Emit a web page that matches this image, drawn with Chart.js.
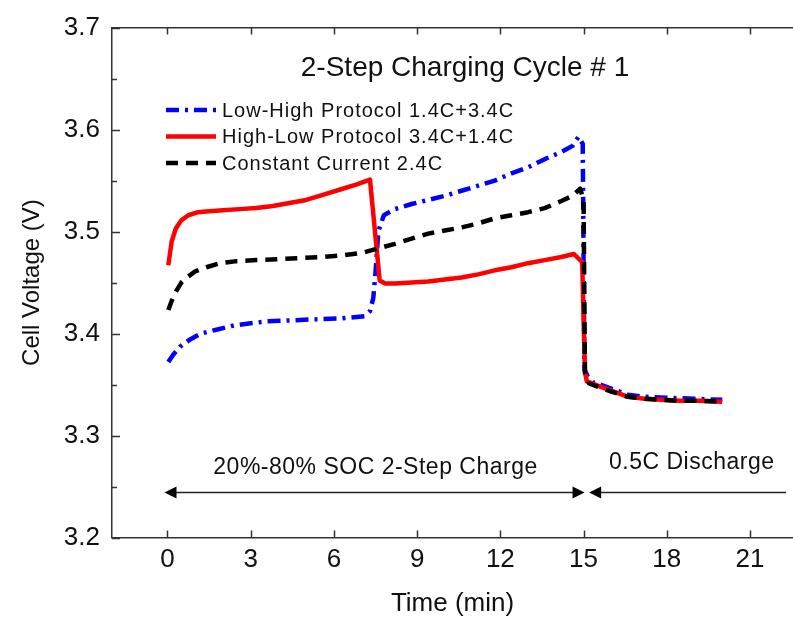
<!DOCTYPE html>
<html>
<head>
<meta charset="utf-8">
<script src="https://cdn.jsdelivr.net/npm/chart.js@4/dist/chart.umd.min.js"></script>
<style>
  html, body { margin: 0; padding: 0; background: #fff; }
  #wrap { width: 793px; height: 619px; }
</style>
</head>
<body>
<div id="wrap"><canvas id="canvas" width="793" height="619"></canvas></div>
<script>
// Low-High protocol 1.4C+3.4C
const tLowHigh = [0.03, 0.2, 0.45, 0.8, 1.2, 1.8, 2.4, 3.0, 3.6, 4.5, 5.4, 6.3, 7.1, 7.3, 7.42, 7.5, 7.6, 7.8, 8.2, 8.8, 9.4, 10.0, 10.6, 11.2, 11.8, 12.4, 13.0, 13.6, 14.2, 14.6, 14.82, 14.97, 15.03, 15.15, 15.35, 15.7, 16.1, 16.6, 17.2, 18.0, 19.0, 20.0];
const vLowHigh = [3.372, 3.379, 3.387, 3.394, 3.400, 3.404, 3.408, 3.410, 3.412, 3.413, 3.414, 3.415, 3.417, 3.422, 3.435, 3.460, 3.500, 3.516, 3.522, 3.527, 3.531, 3.535, 3.540, 3.545, 3.550, 3.557, 3.563, 3.571, 3.578, 3.584, 3.593, 3.586, 3.365, 3.358, 3.352, 3.349, 3.345, 3.340, 3.338, 3.337, 3.336, 3.335];

// High-Low protocol 3.4C+1.4C
const tHighLow = [0.03, 0.15, 0.3, 0.5, 0.75, 1.1, 1.5, 2.0, 2.6, 3.2, 3.8, 4.4, 5.0, 5.6, 6.2, 6.8, 7.3, 7.65, 7.85, 8.2, 8.8, 9.4, 10.0, 10.6, 11.2, 11.8, 12.4, 13.0, 13.6, 14.2, 14.65, 14.95, 15.05, 15.12, 15.6, 16.0, 16.6, 17.2, 17.8, 18.5, 19.2, 20.0];
const vHighLow = [3.467, 3.490, 3.503, 3.511, 3.516, 3.519, 3.520, 3.521, 3.522, 3.523, 3.525, 3.528, 3.531, 3.536, 3.541, 3.546, 3.551, 3.452, 3.449, 3.449, 3.450, 3.451, 3.453, 3.455, 3.458, 3.462, 3.465, 3.469, 3.472, 3.475, 3.478, 3.470, 3.362, 3.353, 3.348, 3.344, 3.338, 3.336, 3.335, 3.334, 3.334, 3.333];

// Constant current 2.4C
const tConst = [0.03, 0.15, 0.3, 0.5, 0.75, 1.0, 1.4, 1.9, 2.5, 3.2, 4.0, 4.8, 5.6, 6.4, 7.0, 7.4, 7.8, 8.2, 8.8, 9.4, 10.0, 10.6, 11.2, 11.8, 12.4, 13.0, 13.6, 14.2, 14.6, 14.88, 15.0, 15.05, 15.2, 15.6, 16.0, 16.6, 17.2, 17.8, 18.5, 19.2, 20.0];
const vConst = [3.423, 3.432, 3.441, 3.450, 3.456, 3.461, 3.465, 3.469, 3.471, 3.472, 3.473, 3.474, 3.475, 3.477, 3.479, 3.482, 3.485, 3.488, 3.493, 3.498, 3.501, 3.504, 3.508, 3.513, 3.516, 3.519, 3.523, 3.530, 3.535, 3.542, 3.531, 3.362, 3.351, 3.347, 3.343, 3.338, 3.336, 3.335, 3.334, 3.334, 3.333];

const xTicks = [0, 3, 6, 9, 12, 15, 18, 21];
const yTicks = [3.2, 3.3, 3.4, 3.5, 3.6, 3.7];
const yMinorTicks = [3.25, 3.35, 3.45, 3.55, 3.65];

const chartTitle = "2-Step Charging Cycle # 1";
const chargeLabel = "20%-80% SOC 2-Step Charge";
const dischargeLabel = "0.5C Discharge";

const FONT = "Arial, 'Liberation Sans', sans-serif";

function pts(ts, vs) {
  return ts.map((t, i) => ({ x: t, y: vs[i] }));
}

// tick marks pointing into the plot, the title, legend and arrows
const decorations = {
  id: "decorations",
  afterDraw(chart) {
    const { ctx, chartArea: a, scales } = chart;
    const x = scales.x, y = scales.y;
    ctx.save();
    ctx.strokeStyle = "#333";
    ctx.lineWidth = 1.5;
    ctx.beginPath();
    xTicks.forEach((t) => {
      const px = Math.round(x.getPixelForValue(t)) + 0.5;
      ctx.moveTo(px, a.bottom); ctx.lineTo(px, a.bottom - 7);
      ctx.moveTo(px, a.top); ctx.lineTo(px, a.top + 7);
    });
    yTicks.forEach((v) => {
      const py = Math.round(y.getPixelForValue(v)) + 0.5;
      ctx.moveTo(a.left, py); ctx.lineTo(a.left + 8, py);
    });
    yMinorTicks.forEach((v) => {
      const py = Math.round(y.getPixelForValue(v)) + 0.5;
      ctx.moveTo(a.left, py); ctx.lineTo(a.left + 5, py);
    });
    ctx.stroke();

    // title inside the plot
    ctx.fillStyle = "#111";
    ctx.font = "28px " + FONT;
    ctx.textAlign = "center";
    ctx.textBaseline = "middle";
    ctx.fillText(chartTitle, 465, 68);

    // legend
    const order = [0, 1, 2];
    ctx.font = "20px " + FONT;
    ctx.textAlign = "left";
    if ("letterSpacing" in ctx) ctx.letterSpacing = "1px";
    order.forEach((di, row) => {
      const ds = chart.data.datasets[di];
      const ry = 110 + row * 26.5;
      ctx.save();
      ctx.strokeStyle = ds.borderColor;
      ctx.lineWidth = ds.borderWidth;
      ctx.setLineDash(ds.borderDash || []);
      ctx.beginPath();
      ctx.moveTo(166, ry); ctx.lineTo(216, ry);
      ctx.stroke();
      ctx.restore();
      ctx.fillStyle = "#111";
      ctx.fillText(ds.label, 222, ry + 1);
    });
    if ("letterSpacing" in ctx) ctx.letterSpacing = "0px";

    // annotation arrows
    const ay = Math.round(y.getPixelForValue(3.245)) + 0.5;
    const x0 = x.getPixelForValue(0) - 3;
    const x15 = x.getPixelForValue(15) + 1;
    const x15b = x.getPixelForValue(15.2);
    const xEnd = x.getPixelForValue(22.3);
    ctx.strokeStyle = "#222";
    ctx.lineWidth = 1.3;
    ctx.beginPath();
    ctx.moveTo(x0 + 8, ay); ctx.lineTo(x15 - 8, ay);
    ctx.moveTo(x15b + 8, ay); ctx.lineTo(xEnd, ay);
    ctx.stroke();
    ctx.fillStyle = "#000";
    const head = (tipX, dir) => {
      ctx.beginPath();
      ctx.moveTo(tipX, ay);
      ctx.lineTo(tipX - dir * 12, ay - 6);
      ctx.lineTo(tipX - dir * 12, ay + 6);
      ctx.closePath();
      ctx.fill();
    };
    head(x0, -1);
    head(x15, 1);
    head(x15b, -1);

    ctx.fillStyle = "#111";
    ctx.font = "23px " + FONT;
    ctx.textAlign = "center";
    if ("letterSpacing" in ctx) ctx.letterSpacing = "0.5px";
    ctx.fillText(chargeLabel, x.getPixelForValue(7.5), y.getPixelForValue(3.268));
    ctx.fillText(dischargeLabel, x.getPixelForValue(18.9), y.getPixelForValue(3.273));
    ctx.restore();
  },
};

const ctx = document.getElementById("canvas").getContext("2d");
new Chart(ctx, {
  type: "line",
  data: {
    datasets: [
      {
        label: "Low-High Protocol 1.4C+3.4C",
        data: pts(tLowHigh, vLowHigh),
        borderColor: "#0000ff",
        borderWidth: 4.5,
        borderDash: [13, 6, 3, 6],
        order: 3,
      },
      {
        label: "High-Low Protocol 3.4C+1.4C",
        data: pts(tHighLow, vHighLow),
        borderColor: "#ff0000",
        borderWidth: 4.5,
        order: 2,
      },
      {
        label: "Constant Current 2.4C",
        data: pts(tConst, vConst),
        borderColor: "#000000",
        borderWidth: 4.5,
        borderDash: [12, 8],
        order: 1,
      },
    ],
  },
  options: {
    responsive: false,
    animation: false,
    devicePixelRatio: 1,
    layout: { padding: { top: 27, right: 0, bottom: 0, left: 0 } },
    elements: {
      point: { radius: 0 },
      line: { tension: 0, fill: false, borderCapStyle: "butt", borderJoinStyle: "round" },
    },
    plugins: {
      legend: { display: false },
      tooltip: { enabled: false },
      title: { display: false },
    },
    scales: {
      x: {
        type: "linear",
        position: "bottom",
        min: -2,
        max: 22.55,
        afterFit: (s) => { s.height = 81.5; },
        afterBuildTicks: (s) => { s.ticks = xTicks.map((v) => ({ value: v })); },
        grid: { drawOnChartArea: false, drawTicks: false },
        border: { display: true, color: "#333", width: 1.5 },
        ticks: {
          padding: 7,
          color: "#111",
          font: { family: FONT, size: 26 },
        },
        title: {
          display: true,
          text: "Time (min)",
          color: "#111",
          font: { family: FONT, size: 26 },
          padding: { top: 0, bottom: 0 },
        },
      },
      x2: {
        type: "linear",
        position: "top",
        min: -2,
        max: 22.55,
        afterFit: (s) => { s.height = 0; },
        grid: { drawOnChartArea: false, drawTicks: false },
        border: { display: true, color: "#333", width: 1.5 },
        ticks: { display: false },
      },
      y: {
        type: "linear",
        min: 3.2,
        max: 3.7,
        afterFit: (s) => { s.width = 112; },
        afterBuildTicks: (s) => { s.ticks = yTicks.map((v) => ({ value: v })); },
        grid: { drawOnChartArea: false, drawTicks: false },
        border: { display: true, color: "#333", width: 1.5 },
        ticks: {
          padding: 12,
          color: "#111",
          font: { family: FONT, size: 26 },
          callback: (v) => v.toFixed(1),
        },
        title: {
          display: true,
          text: "Cell Voltage (V)",
          color: "#111",
          font: { family: FONT, size: 24 },
          padding: { top: 18, bottom: 0 },
        },
      },
    },
  },
  plugins: [decorations],
});
</script>
</body>
</html>
